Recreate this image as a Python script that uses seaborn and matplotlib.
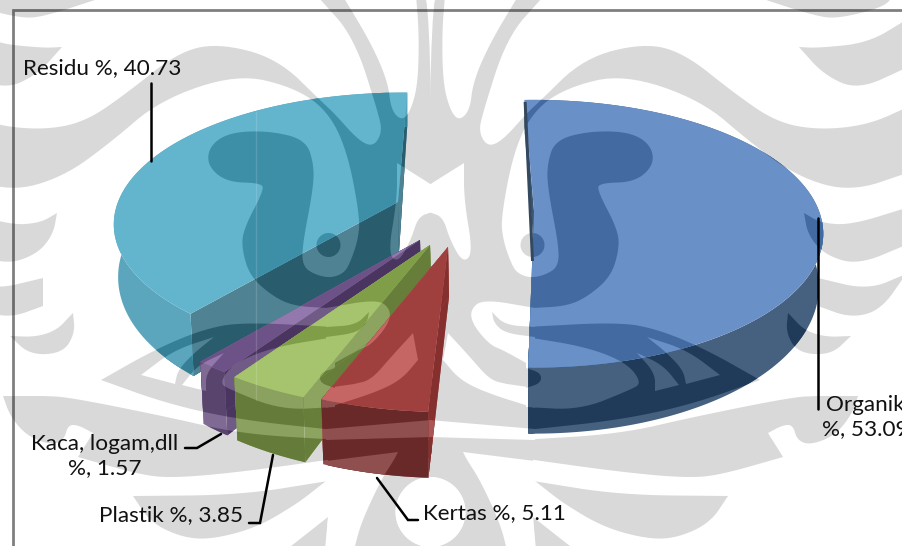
import numpy as np
import matplotlib
matplotlib.use("Agg")
import matplotlib.pyplot as plt
from matplotlib.patches import PathPatch
from matplotlib.path import Path
import matplotlib.colors as mc
import seaborn as sns

# ---- data ----
CATEGORIES = ["Organik", "Kertas", "Plastik", "Kaca, logam,dll", "Residu"]
VALUES = [53.09, 5.11, 3.85, 1.57, 40.73]

# ---- style ----
TOP = ["#6991c7", "#c56664", "#a6c46e", "#9278ac", "#63b4cd"]
WALL = ["#46607f", "#8f4f4f", "#8aa160", "#7f6a94", "#5ba6bd"]
CUT = ["#3e5672", "#ab5655", "#8ca45f", "#705a86", "#4f8293"]
# centre x, centre y, half width, half height, rotation, tip shift in x
GEOM = [
    (534, 211, 285, 130, -2.2, 0),
    (448, 247, 300, 137, 0, 0),
    (430, 245, 300, 137, 0, 0),
    (420, 240, 300, 137, 0, 0),
    (403, 202, 285, 128, 1.0, -5),
]
DRAW_ORDER = [4, 0, 3, 2, 1]
PERSP = 0.17
MID = 861
GRAY = "#d9d9d9"
FONT = "Lato"
FS = 16.2


def K(x, y):
    return (x, y, 1)


MAIN = [(429, -5), K(445, -5), (442, 33), (443, 83), (450, 110), (459, 121), (470, 110), (473, 82), (490, 43),
        K(517, -2), K(542, -2), (507, 37), (482, 115), (479, 133), (488, 147), (503, 140), (527, 113),
        (538, 103), (584, 58), (644, 43), (684, 53), (734, 93), (776, 122), (818, 130), (868, 125), K(910, 106),
        K(910, 172), (851, 192), (798, 177), (751, 143), (701, 100), (624, 74), (568, 87), (534, 110), (514, 150),
        (501, 217), (503, 240), (511, 263), (517, 273), (530, 278), (545, 275), (558, 267), (559, 247), (548, 190),
        (547, 165), (555, 140), (590, 131), (630, 132), (651, 145), (654, 165), (635, 182), (600, 183), (597, 190),
        (618, 230), (619, 250), (611, 276), (590, 295), (568, 306), K(533, 308), K(533, 550), K(429, 550)]
BAND2 = [K(526, 327), (620, 322), (660, 330), (707, 350), K(760, 380), (693, 404), (620, 420), K(526, 430)]
LEAF = [K(429, 440), K(520, 440), (620, 434), (693, 417), (793, 397), K(818, 396), K(858, 396), (851, 416), (834, 436),
        (810, 445), (797, 440), (793, 425), (783, 425), K(768, 433), K(783, 457), (720, 475), (687, 478), (620, 472),
        K(520, 458), K(429, 458)]
LEAF3 = [K(533, 481), (620, 495), K(728, 496), (710, 523), (677, 538), (647, 539), (603, 527), (563, 503)]
LEAF4 = [K(533, 517), K(575, 550), K(535, 550)]
TOP1 = [K(751, -5), (818, 17), (841, 18), (884, 7), K(894, -5)]
TOP2 = [K(799, 47), (824, 75), (858, 90), K(906, 68), K(906, 20), (868, 43), (818, 48)]
CR1 = [K(804, 213), (821, 223), (851, 225), K(906, 208), K(906, 245), (858, 265), (825, 255), (808, 235)]
CR2 = [K(788, 313), (786, 333), (798, 353), (831, 355), K(851, 336), (825, 337), (804, 330), (791, 316)]
CR3 = [K(818, 278), (868, 290), K(906, 274), (881, 310), (851, 318), K(818, 306)]
W_SWIRL = [K(535, 308), (483, 299), (470, 310), (473, 325), (490, 345), (503, 350), K(535, 368)]
W_LOBE = [K(526, 337), (587, 347), (627, 363), (642, 383), (630, 390), (580, 410), K(526, 407)]
W_DIAG = [K(448, 333), (470, 357), (490, 380), K(507, 384), K(535, 388), K(535, 408), (487, 393), (460, 380), K(443, 360)]
W_TRI1 = [K(647, 337), (687, 350), K(720, 375), K(686, 384), (683, 370), (667, 353)]
W_TRI2 = [K(637, 353), (663, 365), K(679, 385), K(655, 391), (655, 373)]
W_STRIP = [K(429, 420), K(535, 429), K(535, 440), K(429, 437)]
W_WEDGE = [K(463, 452), K(535, 461), K(535, 481), K(563, 503), K(533, 517), K(536, 550), K(507, 550), (500, 523), (480, 480), (467, 460)]
W_CENTRE = [K(429, 185), K(464, 163), (464, 200), (473, 253), (463, 263), (450, 240), (443, 217), K(429, 212)]
TONGUE = [K(492, 312), (505, 325), K(535, 327), K(535, 337), (505, 333), (494, 323)]
LOBE = [K(526, 368), (541, 373), (541, 383), K(526, 388)]


def ring(cx, cy, r):
    t = np.linspace(0, 2 * np.pi, 60, endpoint=False)
    return [(cx + r * np.cos(a), cy + r * np.sin(a)) for a in t]


def smooth(points, n=3):
    pts = []
    for p in points:
        pts.append(p[:2])
        if len(p) == 3:
            pts.append(p[:2])
    a = np.array(pts, float)
    for _ in range(n):
        b = np.roll(a, -1, axis=0)
        a = np.column_stack([0.75 * a + 0.25 * b, 0.25 * a + 0.75 * b]).reshape(-1, 2)
    return a


def mirrored(a):
    m = a.copy()
    m[:, 0] = MID - m[:, 0]
    return m


LAYERS = []
for shape, kind in [(MAIN, "g"), (BAND2, "g"), (LEAF, "g"), (LEAF3, "g"), (LEAF4, "g"), (TOP1, "g"), (TOP2, "g"),
                    (CR1, "g"), (CR2, "g"), (CR3, "g"), (W_SWIRL, "w"), (W_LOBE, "w"), (W_DIAG, "w"),
                    (W_TRI1, "w"), (W_TRI2, "w"), (W_STRIP, "w"), (W_WEDGE, "w"), (W_CENTRE, "w"),
                    (TONGUE, "g"), (LOBE, "g"), (ring(430.5, 512, 35), "w"), (ring(532.5, 245, 12), "g")]:
    a = smooth(shape)
    LAYERS.append((a, kind))
    LAYERS.append((mirrored(a), kind))

sns.set_theme(style="white", rc={"axes.grid": False})
plt.rcParams["font.family"] = [FONT, "DejaVu Sans"]

fig = plt.figure(figsize=(9.02, 5.46), dpi=100)
ax = fig.add_axes([0, 0, 1, 1])
ax.set_xlim(0, 902)
ax.set_ylim(546, 0)
ax.axis("off")


def poly_path(a):
    a = np.asarray(a)
    return Path(np.vstack([a, a[0]]), closed=True)


for a, kind in LAYERS:
    ax.add_patch(PathPatch(poly_path(a), fc=GRAY if kind == "g" else "white", ec="none", zorder=1))


def darker(col):
    r = np.array(mc.to_rgb(col)) - 38 / 255
    return tuple(np.clip(r, 0, 1))


z = [10]


def paint(pts, col):
    z[0] += 1
    base = PathPatch(poly_path(pts), fc=col, ec="none", zorder=z[0])
    ax.add_patch(base)
    dark = darker(col)
    for a, kind in LAYERS:
        p = PathPatch(poly_path(a), fc=dark if kind == "g" else col, ec="none", lw=0, zorder=z[0])
        ax.add_patch(p)
        p.set_clip_path(base)
    return base


shares = np.array(VALUES) / np.sum(VALUES) * 360.0
edges = np.concatenate([[0], np.cumsum(shares)])


def project(theta, g):
    cx, cy, rx, ry, rot, _ = g
    t = np.radians(np.asarray(theta, float) + rot)
    u, v = np.sin(t), -np.cos(t)
    s = 1 / (1 - PERSP * v)
    return np.column_stack([cx + rx * u * s, cy + ry * v * s]), v


def lower(pts, v, cx):
    out = pts.copy()
    out[:, 0] = cx + (pts[:, 0] - cx) * 0.985
    out[:, 1] = pts[:, 1] + 50 + 16 * v
    return out


for i in DRAW_ORDER:
    g = GEOM[i]
    th = np.linspace(edges[i], edges[i + 1], max(8, int(shares[i] * 2)))
    top, v = project(th, g)
    bot = lower(top, v, g[0])
    tip = np.array([g[0] + g[5], g[1]], float)
    tip_b = tip + [1, 50]
    paint(np.vstack([tip, top[0], bot[0], tip_b]), CUT[i])
    paint(np.vstack([tip, top[-1], bot[-1], tip_b]), CUT[i])
    paint(np.vstack([top, bot[::-1]]), WALL[i])
    paint(np.vstack([tip, top]), TOP[i])
    if i == 0:  # thin dark sliver of the inner wall along the back cut
        strip = np.vstack([top[0] + [-1, 2], top[0] + [2, 2], tip_b + [-1, 0], tip_b + [-4, 0]])
        z[0] += 1
        ax.add_patch(PathPatch(poly_path(strip), fc="#34495f", ec="none", zorder=z[0]))

# faint vertical seam in the scan
ax.plot([255.5, 255.5], [112, 400], color="white", alpha=0.14, lw=1, zorder=200)

# frame (only top and left are inside the picture)
ax.plot([13, 13, 902], [546, 10, 10], color="black", alpha=0.5, lw=2, zorder=205, solid_joinstyle="miter")

# leaders
LEADERS = [
    [(818, 218), (818, 409)],
    [(418, 520), (408, 520), (377, 478)],
    [(249, 523), (260, 523), (273, 455)],
    [(185, 448), (197, 448), (221, 434)],
    [(151, 83), (151, 161)],
]
for pts in LEADERS:
    xs, ys = zip(*pts)
    ax.plot(xs, ys, color="black", lw=1.8, zorder=210, solid_joinstyle="miter")

label = [f"{c} %, {x:.2f}" for c, x in zip(CATEGORIES, VALUES)]
txt = dict(color="#111111", fontsize=FS, zorder=220, va="center", family=[FONT, "DejaVu Sans"])
ax.text(23, 68, label[4], ha="left", **txt)
ax.text(865, 417, f"{CATEGORIES[0]}\n%, {VALUES[0]:.2f}", ha="center", linespacing=1.22, clip_on=False, **txt)
ax.text(423, 513, label[1], ha="left", **txt)
ax.text(243, 515, label[2], ha="right", **txt)
ax.text(105, 456, f"{CATEGORIES[3]}\n%, {VALUES[3]:.2f}", ha="center", linespacing=1.22, **txt)

fig.savefig("out.png", dpi=100)
